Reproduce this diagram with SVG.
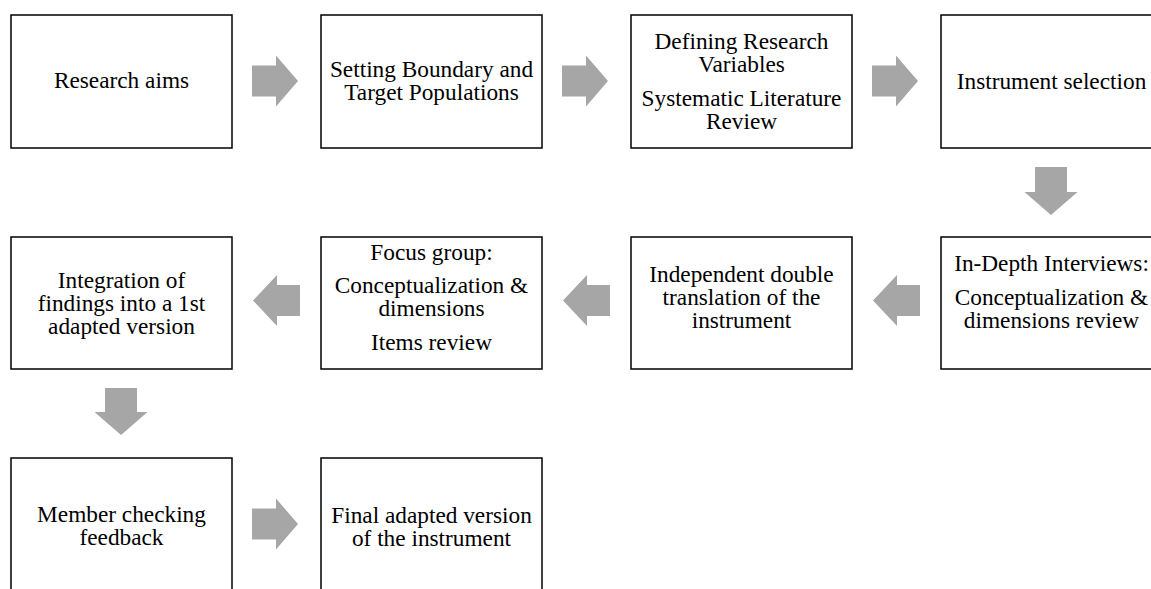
<svg xmlns="http://www.w3.org/2000/svg" width="1151" height="589" viewBox="0 0 1151 589">
  <style>
    .box { fill: #ffffff; stroke: #000000; stroke-width: 1.5; }
    .lbl { font-family: 'Liberation Serif', 'DejaVu Serif', serif; font-size: 23.3px; fill: #000000; text-anchor: middle; }
    .arrow { fill: #a6a6a6; stroke: none; }
  </style>
  <rect width="1151" height="589" fill="#ffffff"/>

  <!-- Row 1 -->
  <g id="research-aims">
    <rect class="box" x="11" y="15" width="221" height="133"/>
    <text class="lbl" x="121.5" y="88">Research aims</text>
  </g>
  <g id="boundary">
    <rect class="box" x="321" y="15" width="221" height="133"/>
    <text class="lbl" x="431.5" y="77">Setting Boundary and</text>
    <text class="lbl" x="431.5" y="100">Target Populations</text>
  </g>
  <g id="variables">
    <rect class="box" x="631" y="15" width="221" height="133"/>
    <text class="lbl" x="741.5" y="49">Defining Research</text>
    <text class="lbl" x="741.5" y="72">Variables</text>
    <text class="lbl" x="741.5" y="106">Systematic Literature</text>
    <text class="lbl" x="741.5" y="129">Review</text>
  </g>
  <g id="instrument-selection">
    <rect class="box" x="941" y="15" width="221" height="133"/>
    <text class="lbl" x="1051.5" y="89">Instrument selection</text>
  </g>

  <!-- Row 2 -->
  <g id="integration">
    <rect class="box" x="11" y="237" width="221" height="132"/>
    <text class="lbl" x="121.5" y="288">Integration of</text>
    <text class="lbl" x="121.5" y="311">findings into a 1st</text>
    <text class="lbl" x="121.5" y="334">adapted version</text>
  </g>
  <g id="focus-group">
    <rect class="box" x="321" y="237" width="221" height="132"/>
    <text class="lbl" x="431.5" y="260">Focus group:</text>
    <text class="lbl" x="431.5" y="293">Conceptualization &amp;</text>
    <text class="lbl" x="431.5" y="316">dimensions</text>
    <text class="lbl" x="431.5" y="350">Items review</text>
  </g>
  <g id="translation">
    <rect class="box" x="631" y="237" width="221" height="132"/>
    <text class="lbl" x="741.5" y="282">Independent double</text>
    <text class="lbl" x="741.5" y="305">translation of the</text>
    <text class="lbl" x="741.5" y="328">instrument</text>
  </g>
  <g id="interviews">
    <rect class="box" x="941" y="237" width="221" height="132"/>
    <text class="lbl" x="1051.5" y="271">In-Depth Interviews:</text>
    <text class="lbl" x="1051.5" y="305">Conceptualization &amp;</text>
    <text class="lbl" x="1051.5" y="328">dimensions review</text>
  </g>

  <!-- Row 3 -->
  <g id="member-checking">
    <rect class="box" x="11" y="458" width="221" height="140"/>
    <text class="lbl" x="121.5" y="522">Member checking</text>
    <text class="lbl" x="121.5" y="545">feedback</text>
  </g>
  <g id="final-version">
    <rect class="box" x="321" y="458" width="221" height="140"/>
    <text class="lbl" x="431.5" y="523">Final adapted version</text>
    <text class="lbl" x="431.5" y="546">of the instrument</text>
  </g>

  <!-- Block arrows between steps -->
  <g id="connectors">
    <!-- row 1, pointing right -->
    <polygon class="arrow" points="252,65.5 276,65.5 276,55.5 298,81 276,106.5 276,96.5 252,96.5"/>
    <polygon class="arrow" points="562,65.5 586,65.5 586,55.5 608,81 586,106.5 586,96.5 562,96.5"/>
    <polygon class="arrow" points="872,65.5 896,65.5 896,55.5 918,81 896,106.5 896,96.5 872,96.5"/>
    <!-- down to row 2 -->
    <polygon class="arrow" points="1035,167 1067,167 1067,192 1077.5,192 1051,215 1024.5,192 1035,192"/>
    <!-- row 2, pointing left -->
    <polygon class="arrow" points="920,285 897,285 897,275 873,300.5 897,326 897,316 920,316"/>
    <polygon class="arrow" points="610,285 587,285 587,275 563,300.5 587,326 587,316 610,316"/>
    <polygon class="arrow" points="300,285 277,285 277,275 253,300.5 277,326 277,316 300,316"/>
    <!-- down to row 3 -->
    <polygon class="arrow" points="105,388 137,388 137,412 147.5,412 121,435 94.5,412 105,412"/>
    <!-- row 3, pointing right -->
    <polygon class="arrow" points="252,508.5 276,508.5 276,498.5 298,524 276,549.5 276,539.5 252,539.5"/>
  </g>
</svg>
